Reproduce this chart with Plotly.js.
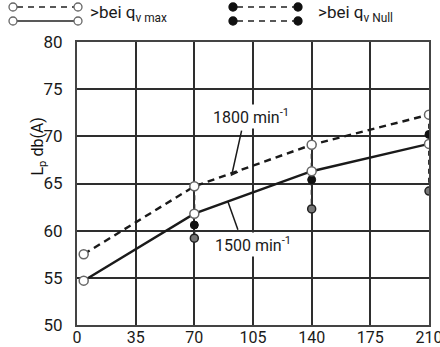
<!DOCTYPE html>
<html>
<head>
<meta charset="utf-8">
<script src="https://cdn.plot.ly/plotly-3.0.1.min.js"></script>
<style>html,body{margin:0;padding:0;background:#fff;}#chart{width:440px;height:347px;}</style>
</head>
<body>
<div id="chart"></div>
<script>
// ---- data ----
const flowMax = [4, 70, 140, 210];
const lp1800Max = [57.5, 64.7, 69.1, 72.3];
const lp1500Max = [54.7, 61.8, 66.3, 69.2];
const flowNull = [70, 140, 210];
const lp1800Null = [60.6, 65.4, 70.2];
const lp1500Null = [59.2, 62.3, 64.2];
const xTicks = [0, 35, 70, 105, 140, 175, 210];
const yTicks = [50, 55, 60, 65, 70, 75, 80];
const label1800 = '1800 min<sup>-1</sup>';
const label1500 = '1500 min<sup>-1</sup>';
const legendMax = '>bei q<sub>v max</sub>';
const legendNull = '>bei q<sub>v Null</sub>';
const yTitle = 'L<sub>p</sub> db(A)';

const FONT = 'Roboto, Liberation Sans, Arial, sans-serif';
const INK = '#1a1a1a';

// vertical dashed connectors between qv max and qv Null at each measured flow
const connX = [], connY = [];
flowNull.forEach((fx, i) => {
  const j = flowMax.indexOf(fx);
  connX.push(fx, fx, null);
  connY.push(lp1800Max[j], lp1500Null[i], null);
});

const traces = [
  {x: connX, y: connY, mode: 'lines', line: {color: '#333', width: 2, dash: '5px,4px'}, hoverinfo: 'skip'},
  {x: flowMax, y: lp1800Max, mode: 'lines', line: {color: INK, width: 2.4, dash: '7px,5px'}},
  {x: flowMax, y: lp1500Max, mode: 'lines', line: {color: INK, width: 2.4}},
  {x: flowNull, y: lp1500Null, mode: 'markers', marker: {symbol: 'circle', size: 8, color: '#777', line: {color: '#222', width: 1.5}}},
  {x: flowNull, y: lp1800Null, mode: 'markers', marker: {symbol: 'circle', size: 8, color: '#111', line: {color: '#111', width: 1}}},
  {x: flowMax, y: lp1800Max, mode: 'markers', marker: {symbol: 'circle', size: 9, color: '#fff', line: {color: '#666', width: 1.5}}},
  {x: flowMax, y: lp1500Max, mode: 'markers', marker: {symbol: 'circle', size: 9, color: '#fff', line: {color: '#666', width: 1.5}}}
];

// pixel -> paper helpers for the legend block above the plot
const L = 77, R = 11, T = 42, B = 22, W = 440, H = 347;
const pw = W - L - R, ph = H - T - B;
const px = v => (v - L) / pw;
const py = v => (H - B - v) / ph;

function circ(cx, cy, filled) {
  return {type: 'circle', xref: 'paper', yref: 'paper', xsizemode: 'pixel', ysizemode: 'pixel',
    xanchor: px(cx), yanchor: py(cy), x0: -4, x1: 4, y0: -4, y1: 4,
    fillcolor: filled ? '#111' : '#fff', line: {color: filled ? '#111' : '#666', width: 1.3}, layer: 'above'};
}
function seg(x0, x1, y, dash) {
  return {type: 'line', xref: 'paper', yref: 'paper', x0: px(x0), x1: px(x1), y0: py(y), y1: py(y),
    line: {color: '#222', width: 1.5, dash: dash}};
}

const shapes = [
  seg(17, 74, 7, '6px,5px'), seg(17, 74, 21, 'solid'),
  circ(13, 7, false), circ(78, 7, false), circ(13, 21, false), circ(78, 21, false),
  seg(237, 294, 7, '6px,5px'), seg(237, 294, 21, '6px,5px'),
  circ(233, 7, true), circ(298, 7, true), circ(233, 21, true), circ(298, 21, true),
  // leader lines for speed labels
  {type: 'path', xref: 'x', yref: 'y', path: 'M 98.2 70.6 L 92.3 65.9 L 96 66.2', line: {color: INK, width: 1.5}},
  {type: 'path', xref: 'x', yref: 'y', path: 'M 96 60.1 L 90 63.1', line: {color: INK, width: 1.5}}
];

const annotations = [
  {x: 104, y: 72.1, xref: 'x', yref: 'y', text: label1800, showarrow: false, bgcolor: '#fff',
   font: {family: FONT, size: 16, color: INK}},
  {x: 105, y: 58.5, xref: 'x', yref: 'y', text: label1500, showarrow: false, bgcolor: '#fff',
   font: {family: FONT, size: 16, color: INK}},
  {x: px(88), y: py(14), xref: 'paper', yref: 'paper', xanchor: 'left', yanchor: 'middle', text: legendMax,
   showarrow: false, font: {family: FONT, size: 17, color: INK}},
  {x: px(316), y: py(14), xref: 'paper', yref: 'paper', xanchor: 'left', yanchor: 'middle', text: legendNull,
   showarrow: false, font: {family: FONT, size: 17, color: INK}},
  {x: px(25), y: py(147), xref: 'paper', yref: 'paper', text: yTitle, textangle: -90, showarrow: false,
   font: {family: FONT, size: 16, color: '#111'}}
];

const axisCommon = {
  showgrid: true, gridcolor: '#2e2e2e', gridwidth: 2, showline: true, mirror: true, linecolor: '#444', linewidth: 2,
  zeroline: false, ticks: '', tickfont: {family: FONT, size: 17, color: INK}, automargin: false, fixedrange: true,
  ticklabeloverflow: 'allow'
};

const layout = {
  width: W, height: H, margin: {l: L, r: R, t: T, b: B},
  paper_bgcolor: '#fff', plot_bgcolor: '#fff', showlegend: false,
  xaxis: Object.assign({}, axisCommon, {range: [0, 210], tickvals: xTicks, ticktext: xTicks.map(String),
    ticklabelstandoff: -3, tickfont: {family: FONT, size: 16, color: INK}}),
  yaxis: Object.assign({}, axisCommon, {range: [50, 80], tickvals: yTicks, ticktext: yTicks.map(String), ticklabelstandoff: 9}),
  shapes: shapes, annotations: annotations, font: {family: FONT}
};

Plotly.newPlot('chart', traces, layout, {staticPlot: true});
</script>
</body>
</html>
